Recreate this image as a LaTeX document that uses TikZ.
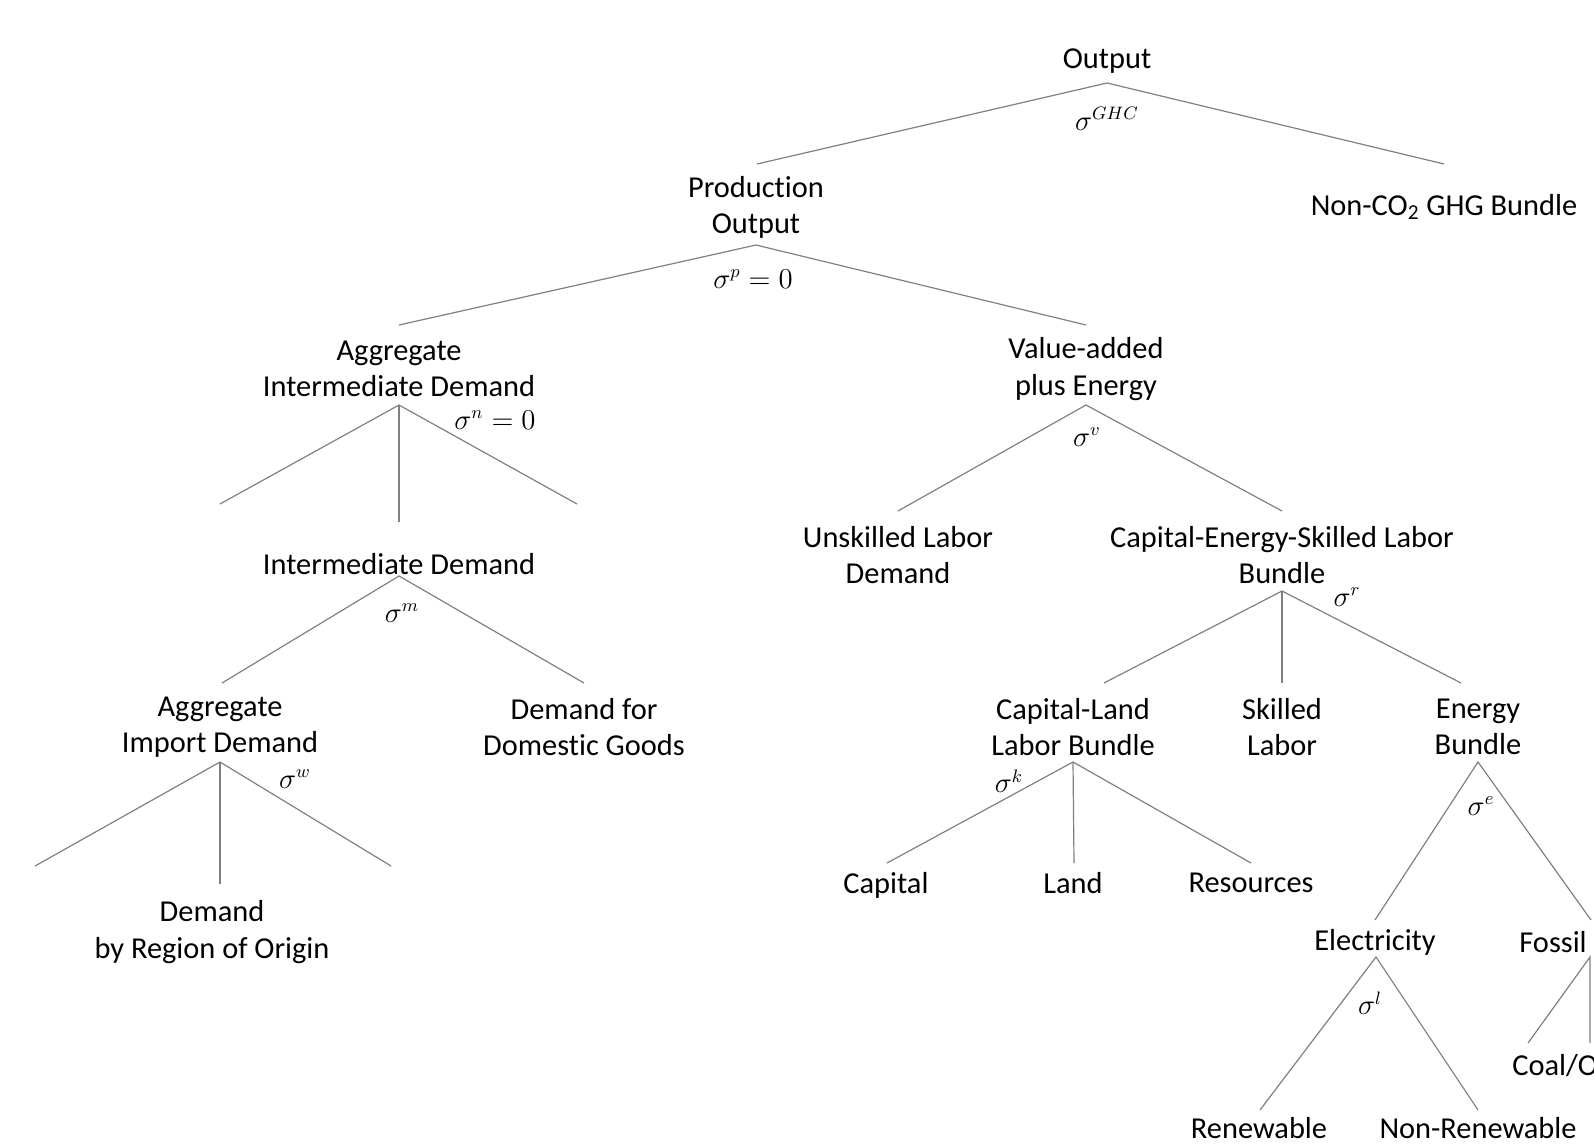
\documentclass[tikz,border=0pt]{standalone}
\usepackage{fontspec}
\setmainfont{Carlito}[Ligatures=NoCommon]
\begin{document}
\begin{tikzpicture}[x=0.5pt,y=-0.5pt,
 lbl/.style={align=center,font=\fontsize{15.2}{18.3}\selectfont,inner sep=0pt,yshift=-1.5pt},
 sig/.style={font=\fontsize{13.5}{15}\selectfont,inner sep=0pt},
 br/.style={draw=black!50,line width=0.6pt}]
\useasboundingbox (0,0) rectangle (1594,1145);
\clip (0,0) rectangle (1594,1145);
% nodes
\node[lbl] (out) at (1107,58) {Output};
\node[lbl] (prod) at (756,204.5) {Production\\Output};
\node[lbl] (ghg) at (1444,204) {Non-CO\textsubscript{2} GHG Bundle};
\node[lbl] (aid) at (399,366) {Aggregate\\Intermediate Demand};
\node[lbl] (va) at (1086,366) {Value-added\\plus Energy};
\node[lbl] (id) at (399,561) {Intermediate Demand};
\node[lbl] (unsk) at (898,552) {Unskilled Labor\\Demand};
\node[lbl] (ces) at (1282,552) {Capital-Energy-Skilled Labor\\Bundle};
\node[lbl] (aimp) at (220,724) {Aggregate\\Import Demand};
\node[lbl] (dom) at (584,724) {Demand for\\Domestic Goods};
\node[lbl] (clb) at (1073,724) {Capital-Land\\Labor Bundle};
\node[lbl] (skl) at (1282,724) {Skilled\\Labor};
\node[lbl] (en) at (1478,724) {Energy\\Bundle};
\node[lbl] (reg) at (212,929) {Demand\\by Region of Origin};
\node[lbl] (cap) at (886,882) {Capital};
\node[lbl] (land) at (1073,880) {Land};
\node[lbl] (res) at (1251,880) {Resources};
\node[lbl] (el) at (1375,939) {Electricity};
\node[lbl,anchor=west] (fos) at (1519,939) {Fossil};
\node[lbl] (ren) at (1259,1125) {Renewable};
\node[lbl] (nren) at (1478,1125) {Non-Renewable};
\node[lbl,anchor=west] (coal) at (1512,1063) {Coal/Oil};
% elasticity labels
\node[sig] (sGHC) at (1107,119) {$\sigma^{GHC}$};
\node[sig] (sP) at (753,279) {$\sigma^{p}=0$};
\node[sig] (sN) at (495,420) {$\sigma^{n}=0$};
\node[sig] (sM) at (402,613) {$\sigma^{m}$};
\node[sig] (sW) at (295,779) {$\sigma^{w}$};
\node[sig] (sV) at (1087,437) {$\sigma^{v}$};
\node[sig] (sR) at (1347,597) {$\sigma^{r}$};
\node[sig] (sK) at (1009,781) {$\sigma^{k}$};
\node[sig] (sE) at (1481,806) {$\sigma^{e}$};
\node[sig] (sL) at (1370,1003) {$\sigma^{l}$};
% apex / end points
\coordinate (outA) at (1107,83);
\coordinate (prodT) at (757,164);
\coordinate (ghgT) at (1444,164);
\coordinate (prodA) at (756,245);
\coordinate (aidT) at (399,325);
\coordinate (vaT) at (1086,325);
\coordinate (aidA) at (399,405);
\coordinate (aidL) at (220,504);
\coordinate (idT) at (399,522);
\coordinate (aidR) at (577,504);
\coordinate (idA) at (399,576);
\coordinate (aimpT) at (222,683);
\coordinate (domT) at (584,683);
\coordinate (aimpA) at (220,762);
\coordinate (aimpL) at (35,866);
\coordinate (regT) at (220,884);
\coordinate (aimpR) at (391,866);
\coordinate (vaA) at (1086,405);
\coordinate (unskT) at (898,511);
\coordinate (cesT) at (1282,511);
\coordinate (cesA) at (1282,591);
\coordinate (clbT) at (1104,683);
\coordinate (sklT) at (1282,683);
\coordinate (enT) at (1461,683);
\coordinate (clbA) at (1073,762);
\coordinate (capT) at (887,863);
\coordinate (landT) at (1074,863);
\coordinate (resT) at (1251,863);
\coordinate (enA) at (1478,762);
\coordinate (elT) at (1375,920);
\coordinate (fosT) at (1591,920);
\coordinate (elA) at (1376,957);
\coordinate (renT) at (1260,1110);
\coordinate (nrenT) at (1478,1110);
\coordinate (fosA) at (1590,957);
\coordinate (coalT) at (1528,1043);
\coordinate (fosV) at (1590,1043);
% branches
\draw[br] (prodT) -- (outA) -- (ghgT);
\draw[br] (aidT) -- (prodA) -- (vaT);
\draw[br] (aidL) -- (aidA) -- (aidR);
\draw[br] (aidA) -- (idT);
\draw[br] (aimpT) -- (idA) -- (domT);
\draw[br] (aimpL) -- (aimpA) -- (aimpR);
\draw[br] (aimpA) -- (regT);
\draw[br] (unskT) -- (vaA) -- (cesT);
\draw[br] (clbT) -- (cesA) -- (enT);
\draw[br] (cesA) -- (sklT);
\draw[br] (capT) -- (clbA) -- (resT);
\draw[br] (clbA) -- (landT);
\draw[br] (elT) -- (enA) -- (fosT);
\draw[br] (renT) -- (elA) -- (nrenT);
\draw[br] (coalT) -- (fosA) -- (fosV);
\end{tikzpicture}
\end{document}
